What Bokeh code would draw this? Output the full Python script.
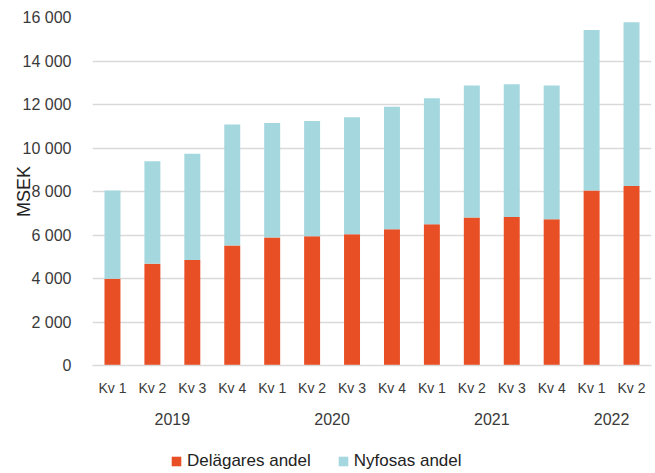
from bokeh.plotting import figure
from bokeh.layouts import column
from bokeh.models import (ColumnDataSource, LinearAxis, FixedTicker, Legend, LegendItem,
                          Range1d)
from bokeh.embed import file_html
from bokeh.resources import INLINE

quarters = ["Kv 1", "Kv 2", "Kv 3", "Kv 4", "Kv 1", "Kv 2", "Kv 3", "Kv 4",
            "Kv 1", "Kv 2", "Kv 3", "Kv 4", "Kv 1", "Kv 2"]
years = ["2019", "2020", "2021", "2022"]
year_positions = [1.5, 5.5, 9.5, 12.5]
delagares = [3990, 4680, 4850, 5520, 5890, 5940, 6030, 6260, 6490, 6800, 6830, 6720, 8050, 8250]
totals = [8050, 9390, 9740, 11080, 11150, 11240, 11410, 11900, 12290, 12870, 12930, 12870, 15430, 15780]
nyfosas = [t - d for t, d in zip(totals, delagares)]
series_names = ["Delägares andel", "Nyfosas andel"]
y_ticks = [0, 2000, 4000, 6000, 8000, 10000, 12000, 14000, 16000]
y_tick_labels = ["0", "2 000", "4 000", "6 000", "8 000", "10 000", "12 000", "14 000", "16 000"]

FONT = "Liberation Sans"
TXT = "#3a3a3a"
RED = "#E94F25"
BLUE = "#A4D8DE"

x = list(range(len(quarters)))
src = ColumnDataSource(dict(x=x, delagares=delagares, nyfosas=nyfosas))

p = figure(width=655, height=440, output_backend="svg", toolbar_location=None,
           x_range=Range1d(-0.5, len(quarters) - 0.5), y_range=Range1d(0, 16000),
           min_border_top=17, min_border_right=4, min_border_left=92, min_border_bottom=75)
p.outline_line_color = None

rs = p.vbar_stack(["delagares", "nyfosas"], x="x", width=0.4, color=[RED, BLUE],
                  line_color=None, source=src)

# grid
p.xgrid.grid_line_color = None
p.ygrid.grid_line_color = "#d9d9d9"
p.ygrid.grid_line_width = 1.5
p.ygrid.ticker = FixedTicker(ticks=y_ticks)

# y axis
ya = p.yaxis[0]
ya.ticker = FixedTicker(ticks=y_ticks)
ya.major_label_overrides = {t: l for t, l in zip(y_ticks, y_tick_labels)}
ya.axis_line_color = None
ya.major_tick_line_color = None
ya.minor_tick_line_color = None
ya.major_label_text_font = FONT
ya.major_label_text_font_size = "16px"
ya.major_label_text_color = TXT
ya.major_label_standoff = 15
ya.axis_label = "MSEK"
ya.axis_label_text_font = FONT
ya.axis_label_text_font_size = "18px"
ya.axis_label_text_font_style = "normal"
ya.axis_label_text_color = "#222222"
ya.axis_label_standoff = -14

# x axis (quarters)
xa = p.xaxis[0]
xa.ticker = FixedTicker(ticks=x)
xa.major_label_overrides = {i: q for i, q in zip(x, quarters)}
xa.axis_line_color = "#d9d9d9"
xa.axis_line_width = 1.5
xa.major_tick_line_color = None
xa.minor_tick_line_color = None
xa.major_label_text_font = FONT
xa.major_label_text_font_size = "14px"
xa.major_label_text_color = TXT
xa.major_label_standoff = 8

# year axis
ya2 = LinearAxis(ticker=FixedTicker(ticks=year_positions),
                 major_label_overrides={pos: y for pos, y in zip(year_positions, years)})
ya2.axis_line_color = None
ya2.major_tick_line_color = None
ya2.minor_tick_line_color = None
ya2.major_label_text_font = FONT
ya2.major_label_text_font_size = "16px"
ya2.major_label_text_color = TXT
ya2.major_label_standoff = 8
p.add_layout(ya2, "below")

# legend strip (separate figure; its bars are hidden, only the legend shows)
pl = figure(width=655, height=33, output_backend="svg", toolbar_location=None,
            x_range=Range1d(-0.5, len(quarters) - 0.5), y_range=Range1d(0, 16000),
            min_border_left=92, min_border_right=4, min_border_top=10, min_border_bottom=0)
pl.outline_line_color = None
pl.axis.visible = False
pl.grid.grid_line_color = None
rl = pl.vbar_stack(["delagares", "nyfosas"], x="x", width=0.4, color=[RED, BLUE],
                   line_color=None, source=src)
for r in rl:
    r.visible = False

legend = Legend(items=[LegendItem(label=series_names[0], renderers=[rl[0]]),
                       LegendItem(label=series_names[1], renderers=[rl[1]])],
                orientation="horizontal", location=(78, 2),
                label_text_font=FONT, label_text_font_size="17px", label_text_color="#222222",
                glyph_width=12, glyph_height=12, spacing=26, padding=0, margin=0,
                label_standoff=5,
                border_line_color=None, background_fill_alpha=0)
pl.add_layout(legend)

open("out.html", "w").write(file_html(column(p, pl, spacing=0), INLINE))
